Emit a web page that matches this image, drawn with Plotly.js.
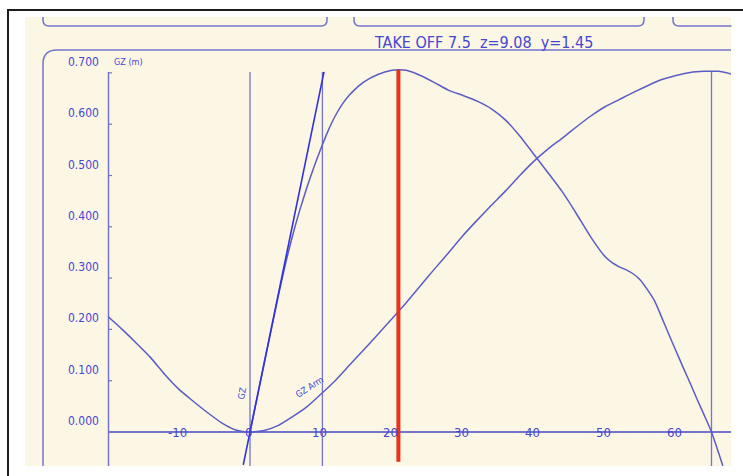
<!DOCTYPE html>
<html>
<head>
<meta charset="utf-8">
<script src="https://cdn.plot.ly/plotly-3.0.1.min.js"></script>
<style>
  html, body { margin: 0; padding: 0; background: #ffffff; }
  #chart { width: 743px; height: 476px; }
</style>
</head>
<body>
<div id="chart"></div>
<script>
// ---------------- DATA ----------------
const chartTitle = "TAKE OFF 7.5  z=9.08  y=1.45";
const yAxisLabel = "GZ (m)";

// GZ curve (heel angle in degrees, GZ in metres)
const gzAngle = [0, 1, 2, 3, 4, 5, 6, 7, 8, 9, 10, 11, 12, 13, 14, 16, 18, 20, 21, 22, 24, 26, 28, 30, 32, 34, 36, 38, 40, 42, 44, 46, 48, 50, 51, 52, 53, 54, 55, 56, 57, 58, 59, 60, 61, 62, 63, 64, 65, 66.6];
const gzValue = [0, 0.067, 0.134, 0.2, 0.266, 0.328, 0.383, 0.432, 0.476, 0.516, 0.553, 0.587, 0.616, 0.639, 0.657, 0.682, 0.697, 0.705, 0.706, 0.705, 0.695, 0.681, 0.666, 0.656, 0.645, 0.63, 0.608, 0.577, 0.541, 0.505, 0.468, 0.425, 0.38, 0.342, 0.33, 0.322, 0.316, 0.308, 0.296, 0.277, 0.255, 0.223, 0.19, 0.158, 0.126, 0.095, 0.063, 0.032, 0.0, -0.066];

// "GZ Arm" curve
const armAngle = [-20, -18, -16, -14, -12, -10, -8, -6, -4, -2, -1, 0, 2, 4, 6, 8, 10, 12, 14, 16, 18, 20, 22, 24, 26, 28, 30, 32, 34, 36, 38, 40, 42, 44, 46, 48, 50, 52, 54, 56, 58, 60, 62, 64, 66, 68];
const armValue = [0.225, 0.2, 0.173, 0.145, 0.112, 0.083, 0.06, 0.038, 0.018, 0.004, 0.001, 0, 0.003, 0.013, 0.03, 0.049, 0.074, 0.1, 0.13, 0.16, 0.19, 0.221, 0.252, 0.285, 0.318, 0.35, 0.383, 0.413, 0.442, 0.47, 0.5, 0.528, 0.552, 0.573, 0.595, 0.616, 0.634, 0.648, 0.662, 0.675, 0.687, 0.695, 0.701, 0.703, 0.703, 0.697];

// initial GM tangent line
const gmAngle = [-0.95, 10.42];
const gmValue = [-0.064, 0.702];

// red marker at max GZ
const markerAngle = [20.9, 20.9];
const markerValue = [0.706, -0.058];

// vertical reference lines
const refAngles = [0, 10.2, 65];

// ticks
const xTickVals = [-10, 0, 10, 20, 30, 40, 50, 60];
const xTickText = ["-10", "0", "10", "20", "30", "40", "50", "60"];
const yTickVals = [0, 0.1, 0.2, 0.3, 0.4, 0.5, 0.6, 0.7];
const yTickText = ["0.000", "0.100", "0.200", "0.300", "0.400", "0.500", "0.600", "0.700"];

// ---------------- LAYOUT HELPERS ----------------
const W = 743, H = 476;
const L = 108, R = 731, T = 50, B = 466;
const PX_PER_DEG = 7.1, X0 = 250, PX_PER_M = 513, Y0 = 432;
function px(x) { return (x - L) / (R - L); }
function py(y) { return (B - y) / (B - T); }

const FONT = "'Liberation Sans Narrow', 'DejaVu Sans Condensed', 'Liberation Sans', sans-serif";
const cream = "#fcf6e5";
const frameBlue = "#7474cc";
const curveBlue = "#5c5cc6";
const textBlue = "#4646d2";

function P(x, y) { return px(x).toFixed(5) + "," + py(y).toFixed(5); }
function boxPath(x1, x2) {
  const yb = 26, r = 6;
  return "M" + P(x1, 17) + " L" + P(x1, yb - r) + " Q" + P(x1, yb) + " " + P(x1 + r, yb) +
         " L" + P(x2 - r, yb) + " Q" + P(x2, yb) + " " + P(x2, yb - r) + " L" + P(x2, 17);
}

const shapes = [];
// cream screen area
shapes.push({type: "rect", xref: "paper", yref: "paper", x0: px(25), x1: px(731), y0: py(466), y1: py(17),
  fillcolor: cream, line: {width: 0}, layer: "below"});
// black frame
shapes.push({type: "line", xref: "paper", yref: "paper", x0: px(7), x1: px(743), y0: py(10), y1: py(10),
  line: {color: "#1c1c1c", width: 2}, layer: "below"});
shapes.push({type: "line", xref: "paper", yref: "paper", x0: px(8), x1: px(8), y0: py(10), y1: py(476),
  line: {color: "#1c1c1c", width: 2}, layer: "below"});
// top panels
[[43, 327], [354, 644], [673, 760]].forEach(b => {
  shapes.push({type: "path", xref: "paper", yref: "paper", path: boxPath(b[0], b[1]),
    line: {color: frameBlue, width: 1.5}, layer: "below"});
});
// cover right overflow of 3rd panel
shapes.push({type: "rect", xref: "paper", yref: "paper", x0: px(731.5), x1: px(745), y0: py(476), y1: py(11),
  fillcolor: "#ffffff", line: {width: 0}, layer: "below"});
// main panel
shapes.push({type: "path", xref: "paper", yref: "paper",
  path: "M" + P(43, 466) + " L" + P(43, 64) + " Q" + P(43, 50) + " " + P(57, 50) + " L" + P(731, 50),
  line: {color: frameBlue, width: 1.5}, layer: "below"});
// y axis line
shapes.push({type: "line", xref: "paper", yref: "paper", x0: px(108.5), x1: px(108.5), y0: py(72), y1: py(466),
  line: {color: frameBlue, width: 1.5}, layer: "below"});
// y ticks
yTickVals.slice(1).forEach(v => {
  shapes.push({type: "line", xref: "paper", yref: "y", x0: px(108.5), x1: px(112), y0: v, y1: v,
    line: {color: frameBlue, width: 1.2}, layer: "below"});
});
// vertical reference lines
refAngles.forEach(a => {
  shapes.push({type: "line", xref: "x", yref: "paper", x0: a, x1: a, y0: py(72), y1: py(466),
    line: {color: frameBlue, width: 1.3}, layer: "below"});
});

const annotations = [];
annotations.push({xref: "paper", yref: "paper", x: px(483), y: py(54), xanchor: "center", yanchor: "bottom",
  text: chartTitle, showarrow: false, font: {family: FONT, size: 16, color: textBlue}});
annotations.push({xref: "paper", yref: "paper", x: px(128), y: py(62), xanchor: "center", yanchor: "middle",
  text: yAxisLabel, showarrow: false, font: {family: FONT, size: 9, color: textBlue}});
yTickVals.forEach((v, i) => {
  annotations.push({xref: "paper", yref: "y", x: px(83), y: v, yshift: 11, xanchor: "center", yanchor: "middle",
    text: yTickText[i], showarrow: false, font: {family: FONT, size: 12, color: textBlue}});
});
xTickVals.forEach((v, i) => {
  annotations.push({xref: "x", yref: "y", x: v, y: 0, xshift: -2, xanchor: "center", yanchor: "middle",
    text: xTickText[i], showarrow: false, font: {family: FONT, size: 13, color: textBlue}});
});
annotations.push({xref: "x", yref: "y", x: -1.1, y: 0.076, textangle: -80, showarrow: false,
  text: "GZ", font: {family: FONT, size: 9, color: textBlue}});
annotations.push({xref: "x", yref: "y", x: 8.4, y: 0.088, textangle: -33, showarrow: false,
  text: "GZ Arm", font: {family: FONT, size: 9, color: textBlue}});

const traces = [
  {x: armAngle, y: armValue, mode: "lines", line: {color: curveBlue, width: 1.5, shape: "spline", smoothing: 0.6}, hoverinfo: "skip"},
  {x: gzAngle, y: gzValue, mode: "lines", line: {color: curveBlue, width: 1.5, shape: "spline", smoothing: 0.6}, hoverinfo: "skip"},
  {x: gmAngle, y: gmValue, mode: "lines", line: {color: "#3030de", width: 1.6}, hoverinfo: "skip"},
  {x: markerAngle, y: markerValue, mode: "lines", line: {color: "#e8321c", width: 4}, hoverinfo: "skip"}
];

const layout = {
  width: W, height: H,
  margin: {l: L, r: W - R, t: T, b: H - B, pad: 0},
  paper_bgcolor: "#ffffff",
  plot_bgcolor: "rgba(0,0,0,0)",
  showlegend: false,
  xaxis: {range: [(L - X0) / PX_PER_DEG, (R - X0) / PX_PER_DEG], showgrid: false, zeroline: false,
    showticklabels: false, ticks: "", showline: false, fixedrange: true},
  yaxis: {range: [(Y0 - B) / PX_PER_M, (Y0 - T) / PX_PER_M], showgrid: false, zeroline: true,
    zerolinecolor: frameBlue, zerolinewidth: 1.5, showticklabels: false, ticks: "", showline: false, fixedrange: true},
  shapes: shapes,
  annotations: annotations
};

Plotly.newPlot("chart", traces, layout, {displayModeBar: false, staticPlot: true});
</script>
</body>
</html>
